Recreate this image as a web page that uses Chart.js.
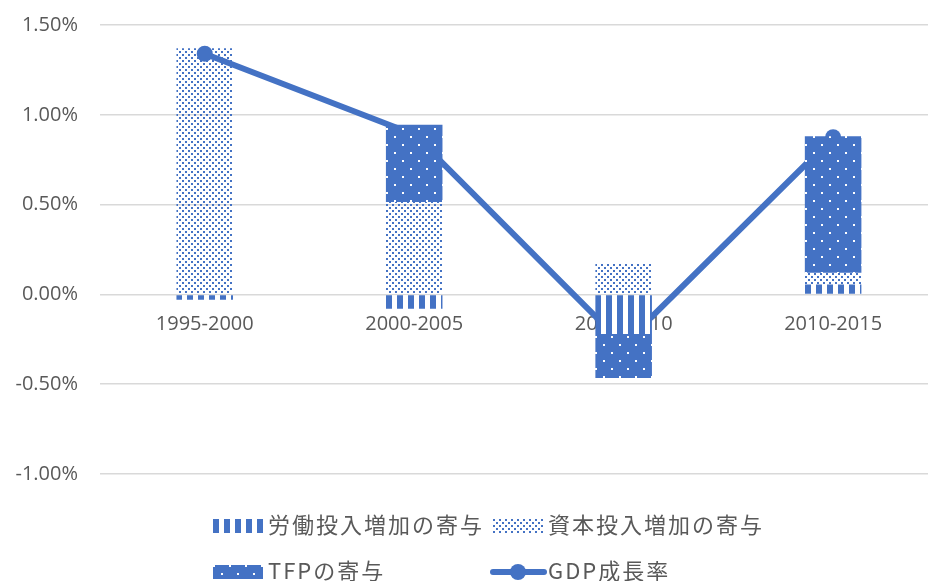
<!DOCTYPE html>
<html><head><meta charset="utf-8">
<script src="https://cdn.jsdelivr.net/npm/chart.js@4"></script>
<style>html,body{margin:0;padding:0;background:#fff;overflow:hidden;width:936px;height:581px}</style></head>
<body><canvas id="c" width="936" height="581"></canvas>
<script>
const categories = ['1995-2000','2000-2005','2005-2010','2010-2015'];
const laborContribution = [-0.03, -0.08, -0.22, 0.055];
const capitalContribution = [1.37, 0.515, 0.17, 0.065];
const tfpContribution = [0, 0.43, -0.245, 0.76];
const gdpGrowth = [1.34, 0.89, -0.28, 0.875];
const seriesNames = ['労働投入増加の寄与','資本投入増加の寄与','TFPの寄与','GDP成長率'];
const yTicks = [-1, -0.5, 0, 0.5, 1, 1.5];

const BLUE = '#4472C4';
const TEXT = '#595959';
const BAR_PCT = 0.27;
const ctx = document.getElementById('c').getContext('2d');
function makeTile(w, h, draw) {
  const c = document.createElement('canvas'); c.width = w; c.height = h;
  draw(c.getContext('2d'));
  return c;
}
const laborTile = makeTile(11, 4, x => { x.fillStyle = '#fff'; x.fillRect(0,0,11,4); x.fillStyle = BLUE; x.fillRect(0,0,6,4); });
const capitalTile = makeTile(6, 6, x => { x.fillStyle = BLUE; x.fillRect(0,0,2,2); x.fillRect(3,3,2,2); });
const tfpTile = makeTile(16, 16, x => { x.fillStyle = BLUE; x.fillRect(0,0,16,16); x.fillStyle = '#fff'; x.fillRect(0,0,2,2); x.fillRect(8,8,2,2); });

function patternAt(tile, dx) {
  const p = ctx.createPattern(tile, 'repeat');
  p.setTransform(new DOMMatrix().translate(dx, 0));
  return p;
}
function barFill(tile) {
  return (c) => {
    const xs = c.chart.scales.x;
    if (c.type !== 'data' || !xs) return patternAt(tile, 0);
    const step = xs.getPixelForValue(1) - xs.getPixelForValue(0);
    const left = Math.round(xs.getPixelForValue(c.dataIndex) - step * BAR_PCT / 2);
    return patternAt(tile, left);
  };
}

const toPoints = arr => arr.map((v, i) => ({x: i, y: v}));

const legendPlugin = {
  id: 'customLegend',
  afterDraw(chart) {
    const c = chart.ctx;
    const ds = chart.data.datasets;
    const tiles = [laborTile, capitalTile, tfpTile];
    const items = [
      {kind:'box', bx:213, by:519, tx:268, ty:525, i:0},
      {kind:'box', bx:493, by:519, tx:548, ty:525, i:1},
      {kind:'box', bx:213, by:565, tx:268, ty:571, i:2},
      {kind:'line', bx:490, by:572, tx:548, ty:571, i:3}
    ];
    c.save();
    items.forEach(it => {
      const d = ds[it.i];
      if (it.kind === 'box') {
        c.save();
        c.translate(it.bx, it.by);
        c.fillStyle = c.createPattern(tiles[it.i], 'repeat');
        c.fillRect(0, 0, 50, 14);
        c.restore();
      } else {
        c.strokeStyle = d.borderColor; c.lineWidth = 6; c.lineCap = 'round';
        c.beginPath(); c.moveTo(it.bx + 3, it.by); c.lineTo(it.bx + 54, it.by); c.stroke();
        c.fillStyle = d.borderColor;
        c.beginPath(); c.arc(it.bx + 28, it.by, 8, 0, Math.PI * 2); c.fill();
      }
      c.fillStyle = TEXT;
      c.font = '22px "Noto Sans CJK JP"';
      c.letterSpacing = '2px';
      c.textBaseline = 'middle';
      c.textAlign = 'left';
      c.fillText(d.label, it.tx, it.ty);
    });
    c.restore();
  }
};

new Chart(ctx, {
  type: 'bar',
  data: {
    datasets: [
      {label: seriesNames[0], data: toPoints(laborContribution), backgroundColor: barFill(laborTile), order: 1, stack: 's', barPercentage: BAR_PCT, categoryPercentage: 1, borderWidth: 0},
      {label: seriesNames[1], data: toPoints(capitalContribution), backgroundColor: barFill(capitalTile), order: 2, stack: 's', barPercentage: BAR_PCT, categoryPercentage: 1, borderWidth: 0},
      {label: seriesNames[2], data: toPoints(tfpContribution), backgroundColor: barFill(tfpTile), order: 3, stack: 's', barPercentage: BAR_PCT, categoryPercentage: 1, borderWidth: 0},
      {type: 'line', label: seriesNames[3], data: toPoints(gdpGrowth), borderColor: BLUE, backgroundColor: BLUE, borderWidth: 6, pointRadius: 8, pointBackgroundColor: BLUE, pointBorderWidth: 0, order: 4, stack: 'line', tension: 0, borderCapStyle: 'round', borderJoinStyle: 'round'}
    ]
  },
  options: {
    responsive: false,
    animation: false,
    layout: {padding: {top: 25, bottom: 107, left: 0, right: 0}},
    plugins: {legend: {display: false}, tooltip: {enabled: false}},
    scales: {
      x: {
        type: 'linear', min: -0.5, max: 3.453, offset: false,
        stacked: true, position: {y: 0}, z: 1,
        grid: {display: false, drawTicks: false}, border: {display: false},
        afterBuildTicks: s => { s.ticks = categories.map((c, i) => ({value: i})); },
        ticks: {padding: 18, color: TEXT, font: {family: 'Open Sans', size: 20}, maxRotation: 0, autoSkip: false, callback: v => categories[v]},
        afterFit: s => { s.height = 0; s.paddingLeft = 0; s.paddingRight = 0; }
      },
      y: {
        stacked: true, min: -1, max: 1.5,
        afterFit: s => { s.width = 100; s.paddingTop = 0; s.paddingBottom = 0; },
        afterBuildTicks: s => { s.ticks = yTicks.map(v => ({value: v})); },
        grid: {color: '#d9d9d9', lineWidth: 1.5, drawTicks: false}, border: {display: false},
        ticks: {padding: 22, color: TEXT, font: {family: 'Open Sans', size: 20}, callback: v => v.toFixed(2) + '%'}
      }
    }
  },
  plugins: [legendPlugin]
});
</script></body></html>
